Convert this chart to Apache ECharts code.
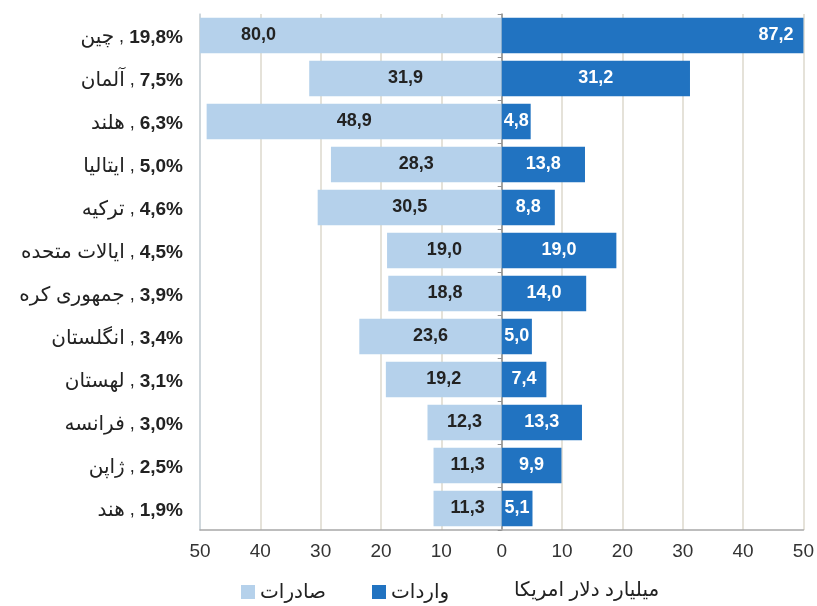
<!DOCTYPE html>
<html>
<head>
<meta charset="utf-8">
<script src="https://cdn.jsdelivr.net/npm/echarts@6/dist/echarts.min.js"></script>
<style>
html,body{margin:0;padding:0;background:#fff;}
#c{width:817px;height:606px;}
</style>
</head>
<body>
<div id="c"></div>
<script>
const countries = ['چین','آلمان','هلند','ایتالیا','ترکیه','ایالات متحده','جمهوری کره','انگلستان','لهستان','فرانسه','ژاپن','هند'];
const shares = ['19,8%','7,5%','6,3%','5,0%','4,6%','4,5%','3,9%','3,4%','3,1%','3,0%','2,5%','1,9%'];
const exportsVals = [80.0,31.9,48.9,28.3,30.5,19.0,18.8,23.6,19.2,12.3,11.3,11.3];
const importsVals = [87.2,31.2,4.8,13.8,8.8,19.0,14.0,5.0,7.4,13.3,9.9,5.1];
const xTicks = [-50,-40,-30,-20,-10,0,10,20,30,40,50];
const legendNames = ['صادرات','واردات'];
const unitText = 'میلیارد دلار امریکا';

const FONT = '"Liberation Sans","DejaVu Sans",Arial,sans-serif';
const fmt = v => Math.abs(v).toFixed(1).replace('.', ',');
const cats = countries.map((c,i)=>i);
const xMin = xTicks[0], xMax = xTicks[xTicks.length-1];

const chart = echarts.init(document.getElementById('c'));
chart.setOption({
  animation:false,
  textStyle:{fontFamily:FONT},
  grid:{left:200,right:12,top:14,bottom:76},
  legend:{
    data:legendNames,
    left:236, top:577,
    itemWidth:14,itemHeight:14,itemGap:46,
    icon:'rect',
    textStyle:{fontSize:20,color:'#222',fontFamily:FONT}
  },
  graphic:[{
    type:'text', left:514, top:580,
    style:{text:unitText,fontSize:20,fill:'#222',fontFamily:FONT}
  }],
  xAxis:{
    type:'value',min:xMin,max:xMax,interval:10,
    axisLine:{show:true,onZero:false,lineStyle:{color:'#a8a8a8',width:1.5}},
    axisTick:{show:false},
    splitLine:{show:true,lineStyle:{color:'#ddd8cc',width:1.5}},
    axisLabel:{fontSize:19,color:'#333',margin:12,formatter:v=>String(Math.abs(v))}
  },
  yAxis:[{
    type:'category',data:cats,inverse:true,
    axisLine:{show:true,onZero:false,lineStyle:{color:'#c9d3de',width:1.5}},
    axisTick:{show:false},
    axisLabel:{
      margin:17,
      formatter:(v)=>{const i=+v;return '{n|'+countries[i]+'}{c| , }{p|'+shares[i]+'}';},
      rich:{
        n:{fontSize:20,color:'#222',fontFamily:FONT,padding:[4,0,0,0]},
        c:{fontSize:18,color:'#222',fontFamily:FONT,padding:[4,0,0,0]},
        p:{fontSize:19,color:'#222',fontWeight:'bold',fontFamily:FONT,padding:[4,0,0,0]}
      }
    }
  },{
    type:'category',data:cats,inverse:true,position:'left',
    axisLine:{show:true,onZero:true,lineStyle:{color:'#8f8f8f',width:1.5}},
    axisTick:{show:true,length:4,lineStyle:{color:'#8f8f8f'}},
    axisLabel:{show:false}
  }],
  series:[{
    name:legendNames[0],type:'bar',stack:'t',
    barCategoryGap:'18%',
    itemStyle:{color:'#b5d1eb'},
    data:exportsVals.map((v,i)=> -v < xMin ? {value:-v,label:{position:'insideLeft',offset:[36,0]}} : -v),
    label:{show:true,position:'inside',formatter:p=>fmt(p.value),fontSize:18,fontWeight:'bold',color:'#222',fontFamily:FONT}
  },{
    name:legendNames[1],type:'bar',stack:'t',
    barCategoryGap:'18%',
    itemStyle:{color:'#2173c1'},
    data:importsVals.map((v,i)=> v > xMax ? {value:v,label:{position:'insideRight',distance:10}} : v),
    label:{show:true,position:'inside',formatter:p=>fmt(p.value),fontSize:18,fontWeight:'bold',color:'#fff',fontFamily:FONT}
  }]
});
</script>
</body>
</html>
